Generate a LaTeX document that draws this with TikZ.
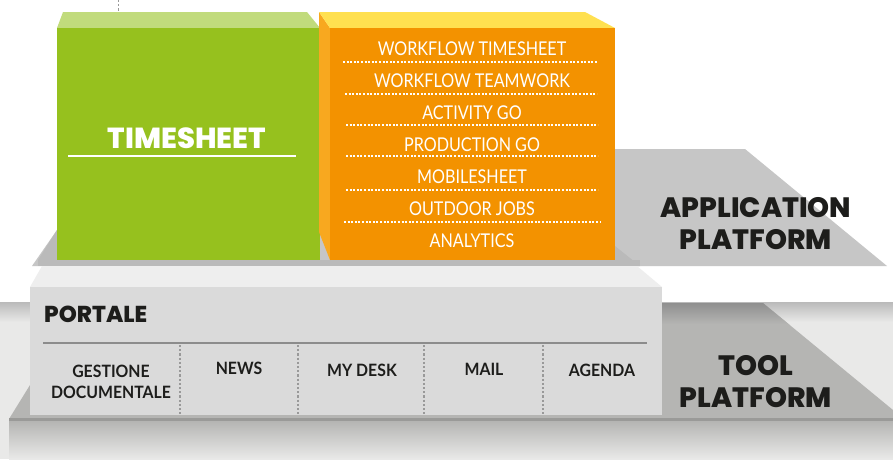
\documentclass[tikz,border=0pt]{standalone}
\usepackage{fontspec}
\setmainfont{Lato}
\newfontfamily\headfont{Poppins}[BoldFont={Poppins ExtraBold}]
\definecolor{grfront}{HTML}{96C11E}
\definecolor{grtop}{HTML}{C1DB7C}
\definecolor{orfront}{HTML}{F39200}
\definecolor{orside}{HTML}{F8A81F}
\definecolor{ortop}{HTML}{FFE050}
\definecolor{appgray}{HTML}{C6C6C6}
\definecolor{appdark}{HTML}{BABABA}
\definecolor{portfront}{HTML}{DADADA}
\definecolor{porttop}{HTML}{EEEEEE}
\definecolor{toolgray}{HTML}{B5B5B3}
\definecolor{tooldark}{HTML}{8F8F8F}
\definecolor{lightgray}{HTML}{E9E9E8}
\definecolor{inkdark}{HTML}{1D1D1B}
\tikzset{
  x=1pt,y=-1pt,
  itemlabel/.style={text=white,font=\fontsize{19}{19}\selectfont,inner sep=0pt,anchor=center,xscale=0.85,transform shape},
  sublabel/.style={text=inkdark,font=\fontsize{17}{21}\selectfont\bfseries,inner sep=0pt,align=center,anchor=center,xscale=0.93,transform shape},
  headlabel/.style={text=inkdark,font=\headfont\bfseries\fontsize{28}{32}\selectfont,inner sep=0pt,align=center,anchor=center},
  whitedots/.style={draw=white,line width=2pt,dash pattern=on 2pt off 1.6pt},
  graydots/.style={draw=black!40,line width=2pt,dash pattern=on 2.2pt off 2pt},
}
\begin{document}
\begin{tikzpicture}
\useasboundingbox (0,0) rectangle (893,459);
\clip (0,0) rectangle (893,459);
\fill[white] (0,0) rectangle (893,459);
% dotted line at top
\draw[graydots,line width=1pt] (118,0) -- (118,12);
% tool platform background
\fill[lightgray] (0,302) rectangle (893,459);
\shade[top color=black!27,bottom color=lightgray] (0,302) rectangle (893,322);
\fill[toolgray] (662,303) -- (763,303) -- (893,410) -- (893,419) -- (9,419) -- (30,385) -- cycle;
\begin{scope}
\clip (662,303) -- (763,303) -- (893,410) -- (893,419) -- (662,419) -- cycle;
\shade[top color=tooldark,bottom color=toolgray] (662,303) rectangle (893,324);
\end{scope}
\fill[toolgray!85!black] (9,418) rectangle (893,421);
\shade[top color=toolgray,bottom color=lightgray] (9,421) rectangle (893,459);
% application platform
\fill[appgray] (57,149) -- (745,149) -- (887,266) -- (32,266) -- (57,230) -- cycle;
\fill[appdark] (38,260) rectangle (640,266);
\fill[appdark] (615,246) -- (640,266) -- (615,266) -- cycle;
\fill[appdark] (57,230) -- (38,260) -- (57,260) -- cycle;
% portale block
\fill[porttop] (42,266) -- (637,266) -- (662,287) -- (30,287) -- cycle;
\fill[portfront] (30,287) rectangle (662,415);
\node[headlabel,anchor=west,font=\headfont\bfseries\fontsize{23}{23}\selectfont] (portale) at (44,314) {PORTALE};
\draw[draw=black!45,line width=2.4pt] (43,343) -- (647,343);
\foreach \xx in {180,298,424,543} \draw[graydots] (\xx,345) -- (\xx,415);
\node[sublabel] (gestione) at (111,382) {GESTIONE\\DOCUMENTALE};
\node[sublabel] (news) at (239,368) {NEWS};
\node[sublabel] (mydesk) at (362,370) {MY DESK};
\node[sublabel] (mail) at (484,369) {MAIL};
\node[sublabel] (agenda) at (602,370) {AGENDA};
% green block
\fill[grtop] (63,12) -- (307,12) -- (320,28) -- (57,28) -- cycle;
\fill[grfront] (57,28) rectangle (320,260);
\node[headlabel,text=white,font=\headfont\bfseries\fontsize{29}{29}\selectfont] (timesheet) at (187,138) {TIMESHEET};
\draw[white,line width=2.4pt] (68,156) -- (296,156);
% orange block
\fill[orside] (319,12) -- (330,28) -- (330,260) -- (319,232) -- cycle;
\fill[ortop] (319,12) -- (585,12) -- (615,28) -- (330,28) -- cycle;
\fill[orfront] (330,28) rectangle (615,260);
\node[itemlabel] (i1) at (472,49) {WORKFLOW TIMESHEET};
\node[itemlabel] (i2) at (472,81) {WORKFLOW TEAMWORK};
\node[itemlabel] (i3) at (472,113) {ACTIVITY GO};
\node[itemlabel] (i4) at (472,145) {PRODUCTION GO};
\node[itemlabel] (i5) at (472,177) {MOBILESHEET};
\node[itemlabel] (i6) at (472,209) {OUTDOOR JOBS};
\node[itemlabel] (i7) at (472,241) {ANALYTICS};
\draw[whitedots] (343,62) -- (597,62);
\draw[whitedots] (345,94) -- (597,94);
\draw[whitedots] (346,125) -- (598,125);
\draw[whitedots] (346,156) -- (598,156);
\draw[whitedots] (346,190) -- (598,190);
\draw[whitedots] (344,222) -- (601,222);
% platform labels
\node[headlabel] (app) at (756,223.5) {APPLICATION\\PLATFORM};
\node[headlabel] (tool) at (756,382) {TOOL\\PLATFORM};
\end{tikzpicture}
\end{document}
